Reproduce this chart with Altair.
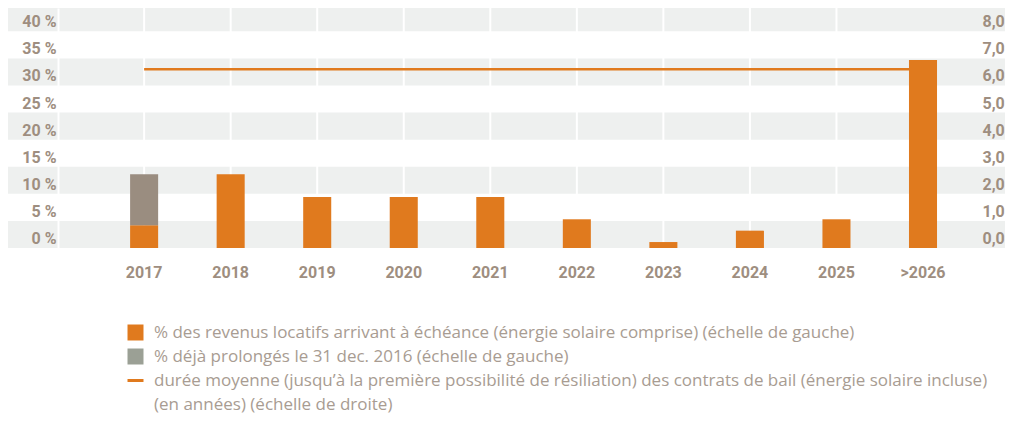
import altair as alt
import pandas as pd

# ---- data ----
years = ["2017", "2018", "2019", "2020", "2021", "2022", "2023", "2024", "2025", ">2026"]
revenus = [4.2, 13.6, 9.4, 9.4, 9.4, 5.3, 1.1, 3.2, 5.3, 34.7]      # % (left scale)
prolonges = [9.4, 0, 0, 0, 0, 0, 0, 0, 0, 0]                          # % (left scale)
duree = [6.6] * 10                                                     # years (right scale)
band_starts = [0, 10, 20, 30, 40]
left_ticks = [0, 5, 10, 15, 20, 25, 30, 35, 40]
right_ticks = [0, 1, 2, 3, 4, 5, 6, 7, 8]
grid_years = years[:-1]

S1 = "% des revenus locatifs arrivant à échéance (énergie solaire comprise) (échelle de gauche)"
S2 = "% déjà prolongés le 31 dec. 2016 (échelle de gauche)"
S3 = "durée moyenne (jusqu’à la première possibilité de résiliation) des contrats de bail (énergie solaire incluse)"
S4 = "(en années) (échelle de droite)"
legend_items = [S1, S2, S3, S4]

ORANGE = "#e07a1e"
BARGRAY = "#9a8d80"
LEGGRAY = "#9ba095"
BAND = "#eef0ef"
LABEL = "#9e8e80"
LEGTXT = "#a89c92"
AXFONT = "Roboto, sans-serif"
AXSIZE = 16

W, H = 917, 240
LMAX = 44.3
RMAX = LMAX / 5

bars_df = pd.DataFrame(
    [{"year": y, "series": S1, "value": v, "order": 0} for y, v in zip(years, revenus)]
    + [{"year": y, "series": S2, "value": v, "order": 1} for y, v in zip(years, prolonges) if v > 0]
)
line_df = pd.DataFrame({"year": years, "duree": duree})
band_df = pd.DataFrame({"start": band_starts, "end": [b + 5 for b in band_starts]})
grid_df = pd.DataFrame({"year": grid_years})
leg_df = pd.DataFrame({"series": legend_items})

xscale = alt.Scale(domain=years, paddingInner=0.676, paddingOuter=0.636, align=0.655)
xaxis = alt.Axis(domain=False, ticks=False, grid=False, labelAngle=0, labelOverlap=False,
                 labelFont=AXFONT, labelFontSize=AXSIZE, labelFontWeight="bold",
                 labelColor=LABEL, labelPadding=16, zindex=1)
xenc = alt.X("year:N", scale=xscale, sort=years, title=None, axis=xaxis)

left_axis = alt.Axis(orient="left", values=left_ticks, labelExpr="datum.value + ' %'",
                     domain=True, domainColor="white", domainWidth=2, ticks=False, grid=False,
                     labelOverlap=False, labelFont=AXFONT, labelFontSize=AXSIZE, labelFontWeight="bold",
                     labelColor=LABEL, labelPadding=2, labelBaseline="middle", labelOffset=-9.5, zindex=1)
right_axis = alt.Axis(orient="right", values=right_ticks,
                      labelExpr="replace(format(datum.value, '.1f'), '.', ',')",
                      domain=False, ticks=False, grid=False, labelOverlap=False,
                      labelFont=AXFONT, labelFontSize=AXSIZE, labelFontWeight="bold",
                      labelColor=LABEL, labelPadding=7, labelBaseline="middle", labelOffset=-9.5, zindex=1)

bands = alt.Chart(band_df).mark_rect(color=BAND).encode(
    y=alt.Y("start:Q", scale=alt.Scale(domain=[0, LMAX], nice=False), axis=left_axis, title=None),
    y2="end:Q",
    x=alt.value(-52),
    x2=alt.value(W + 30),
)

grid = alt.Chart(grid_df).mark_rule(color="white", strokeWidth=2).encode(
    x=xenc,
    y=alt.value(0),
    y2=alt.value(H),
)

line = alt.Chart(line_df).mark_line(strokeWidth=2.5, color=ORANGE).encode(
    x=xenc,
    y=alt.Y("duree:Q", scale=alt.Scale(domain=[0, RMAX], nice=False), axis=right_axis, title=None),
)

bars = alt.Chart(bars_df).mark_bar().encode(
    x=xenc,
    y=alt.Y("value:Q", stack="zero", scale=alt.Scale(domain=[0, LMAX], nice=False), axis=None, title=None),
    color=alt.Color("series:N", scale=alt.Scale(domain=[S1, S2], range=[ORANGE, BARGRAY]), legend=None),
    order=alt.Order("order:Q"),
)

legend = alt.Legend(
    title=None, orient="none", legendX=68, legendY=315, direction="vertical",
    labelFont="Open Sans, sans-serif", labelFontSize=17, labelColor=LEGTXT,
    labelLimit=1000, symbolSize=256, symbolStrokeWidth=3, labelOffset=9,
    rowPadding=-11, padding=0, gridAlign="all",
)
leg = alt.Chart(leg_df).mark_point(size=0, opacity=1, filled=True).encode(
    x=alt.value(0),
    y=alt.value(0),
    fill=alt.Fill("series:N", sort=legend_items,
                  scale=alt.Scale(domain=legend_items, range=[ORANGE, LEGGRAY, "transparent", "transparent"]),
                  legend=legend),
    stroke=alt.Stroke("series:N", sort=legend_items,
                      scale=alt.Scale(domain=legend_items, range=["transparent", "transparent", ORANGE, "transparent"]),
                      legend=legend),
    shape=alt.Shape("series:N", sort=legend_items,
                    scale=alt.Scale(domain=legend_items, range=["square", "square", "stroke", "square"]),
                    legend=legend),
)

chart = (
    alt.layer(bands, grid, line, bars, leg)
    .resolve_scale(y="independent")
    .properties(
        width=W, height=H,
        autosize=alt.AutoSizeParams(type="none"),
        padding={"left": 50, "top": 0, "right": 33, "bottom": 166},
        background="white",
    )
    .configure_view(stroke=None)
)

chart.save("out.html", embed_options={"renderer": "svg", "actions": False})
